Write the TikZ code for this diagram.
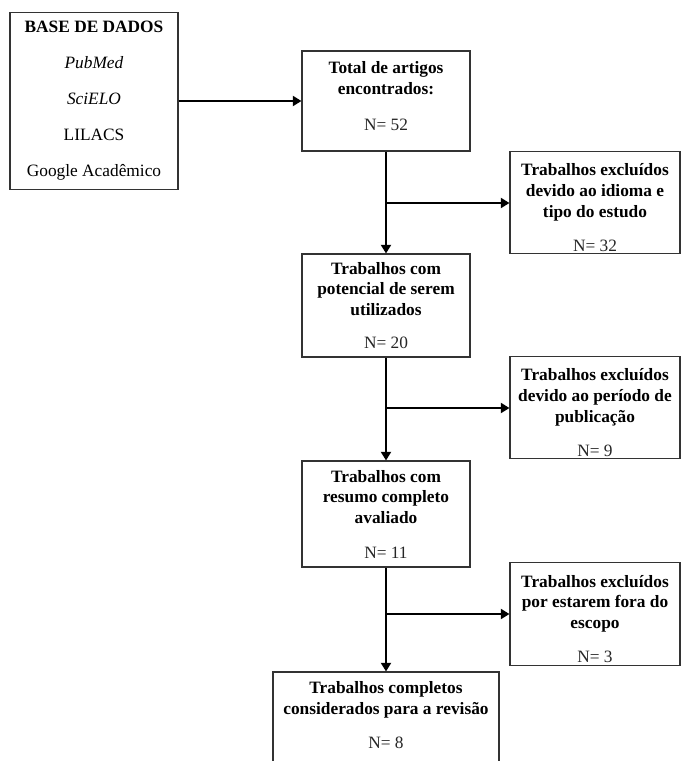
\documentclass[tikz,border=0pt]{standalone}
\usepackage{fontspec}
\setmainfont{Liberation Serif}
\usetikzlibrary{arrows.meta}

\newcommand{\qtd}[1]{\textcolor{black!85}{N= #1}}

\begin{document}
\begin{tikzpicture}[x=0.75pt,y=-0.75pt]
	\tikzstyle{caixa}=[draw=black!80,line width=0.8pt,align=center,inner sep=2pt,font=\fontsize{13}{15.5}\selectfont]
	\tikzstyle{seta}=[line width=2.2pt,-{Triangle[length=6.5pt,width=7.5pt]}]
	\clip (0,0) rectangle (682,761);
	% caixas
	\node[caixa,minimum width=126pt,minimum height=132.75pt,font=\fontsize{13}{27}\selectfont] (base) at (94,101) {\textbf{BASE DE DADOS}\\\textit{PubMed}\\\textit{SciELO}\\LILACS\\Google Acadêmico};
	\node[caixa,minimum width=126pt,minimum height=75pt] (tot) at (386,101) {\textbf{Total de artigos}\\\textbf{encontrados:}\\[11.5pt]\qtd{52}\\[-7.5pt]\mbox{}};
	\node[caixa,minimum width=127.5pt,minimum height=75.75pt] (exc1) at (595,202.5) {\mbox{}\\[1pt]\textbf{Trabalhos excluídos}\\\textbf{devido ao idioma e}\\\textbf{tipo do estudo}\\[10pt]\qtd{32}};
	\node[caixa,minimum width=126pt,minimum height=77.25pt] (pot) at (386,305.5) {\textbf{Trabalhos com}\\\textbf{potencial de serem}\\\textbf{utilizados}\\[9.5pt]\qtd{20}};
	\node[caixa,minimum width=127.5pt,minimum height=75.75pt] (exc2) at (595,407.5) {\mbox{}\\[1pt]\textbf{Trabalhos excluídos}\\\textbf{devido ao período de}\\\textbf{publicação}\\[10pt]\qtd{9}};
	\node[caixa,minimum width=126pt,minimum height=79.5pt] (res) at (386,514) {\textbf{Trabalhos com}\\\textbf{resumo completo}\\\textbf{avaliado}\\[10.5pt]\qtd{11}};
	\node[caixa,minimum width=127.5pt,minimum height=76.5pt] (exc3) at (595,614) {\mbox{}\\[1pt]\textbf{Trabalhos excluídos}\\\textbf{por estarem fora do}\\\textbf{escopo}\\[10pt]\qtd{3}};
	\node[caixa,minimum width=169.5pt,minimum height=69pt] (fin) at (386,718) {\textbf{Trabalhos completos}\\\textbf{considerados para a revisão}\\[10pt]\qtd{8}\\[-11pt]\mbox{}};
	% pontos de desvio
	\coordinate (d1) at (386,203);
	\coordinate (d2) at (386,408);
	\coordinate (d3) at (386,614);
	% setas
	\draw[seta] (base) -- (tot);
	\draw[seta] (tot) -- (pot);
	\draw[seta] (pot) -- (res);
	\draw[seta] (res) -- (fin);
	\draw[seta] (d1) -- (d1 -| exc1.west);
	\draw[seta] (d2) -- (d2 -| exc2.west);
	\draw[seta] (d3) -- (d3 -| exc3.west);
\end{tikzpicture}
\end{document}
